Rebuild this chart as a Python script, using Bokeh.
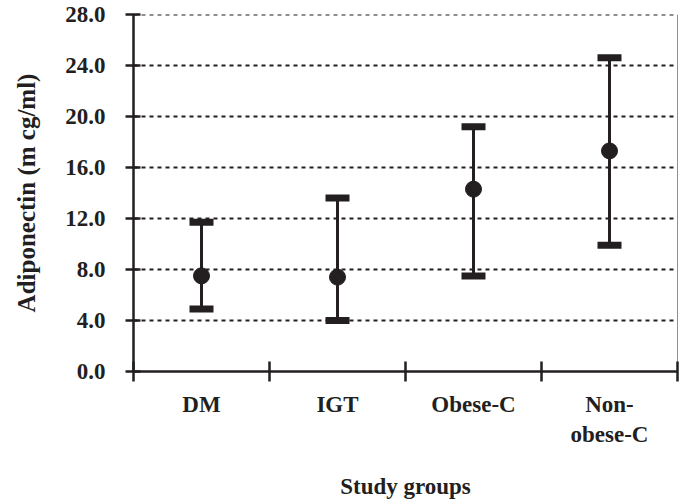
from bokeh.plotting import figure
from bokeh.models import (Range1d, FixedTicker, LinearAxis, Whisker, TeeHead, Grid,
                          ColumnDataSource, PrintfTickFormatter, Span)
from bokeh.embed import file_html
from bokeh.resources import INLINE

# ---- data ----
groups = ["DM", "IGT", "Obese-C", "Non-\nobese-C"]
means = [7.5, 7.4, 14.3, 17.3]
upper = [11.7, 13.6, 19.2, 24.6]
lower = [4.9, 4.0, 7.5, 9.9]
y_ticks = [0, 4, 8, 12, 16, 20, 24, 28]

INK = "#231f20"
FONT = "Liberation Serif"

xc = [i + 0.5 for i in range(len(groups))]
src = ColumnDataSource(dict(x=xc, m=means, up=upper, lo=lower))

p = figure(width=686, height=501, output_backend="svg", toolbar_location=None,
           x_range=Range1d(0, len(groups)), y_range=Range1d(y_ticks[0], y_ticks[-1]),
           min_border_left=133, min_border_right=9, min_border_top=14,
           min_border_bottom=130, x_axis_type=None, y_axis_type=None)
p.outline_line_color = None
p.background_fill_color = "white"
p.border_fill_color = "white"

# y axis
yax = LinearAxis(ticker=FixedTicker(ticks=y_ticks, minor_ticks=[]),
                 formatter=PrintfTickFormatter(format="%.1f"),
                 axis_label="Adiponectin (m cg/ml)")
yax.axis_line_width = 2.5
yax.axis_line_color = INK
yax.major_tick_line_width = 2.5
yax.major_tick_line_color = INK
yax.major_tick_in = 7
yax.major_tick_out = 8
yax.major_label_standoff = 20
yax.major_label_text_font = FONT
yax.major_label_text_font_style = "bold"
yax.major_label_text_font_size = "23px"
yax.major_label_text_color = INK
yax.axis_label_text_font = FONT
yax.axis_label_text_font_style = "bold"
yax.axis_label_text_font_size = "25px"
yax.axis_label_text_color = INK
yax.axis_label_standoff = 22
p.add_layout(yax, "left")

# x axis: minor ticks at group boundaries, labels at group centres
xax = LinearAxis(ticker=FixedTicker(ticks=xc, minor_ticks=list(range(len(groups) + 1))),
                 major_label_overrides={c: g for c, g in zip(xc, groups)},
                 axis_label="Study groups")
xax.axis_line_width = 2.5
xax.axis_line_color = INK
xax.major_tick_in = 0
xax.major_tick_out = 0
xax.major_tick_line_color = None
xax.minor_tick_in = 10
xax.minor_tick_out = 10
xax.minor_tick_line_width = 2.5
xax.minor_tick_line_color = INK
xax.major_label_standoff = 10
xax.major_label_text_font = FONT
xax.major_label_text_font_style = "bold"
xax.major_label_text_font_size = "23px"
xax.major_label_text_color = INK
xax.axis_label_text_font = FONT
xax.axis_label_text_font_style = "bold"
xax.axis_label_text_font_size = "23px"
xax.axis_label_text_color = INK
xax.axis_label_standoff = 24
p.add_layout(xax, "below")

# horizontal dashed grid
p.add_layout(Grid(dimension=1, ticker=FixedTicker(ticks=y_ticks[1:]),
                  grid_line_color=INK, grid_line_width=2,
                  grid_line_dash="4 4"))
# dashed line along the top edge (grid skips the range boundary)
p.add_layout(Span(location=y_ticks[-1], dimension="width",
                  line_color=INK, line_width=2, line_dash="4 4"))

# right border
p.add_layout(Span(location=len(groups), dimension="height",
                  line_color=INK, line_width=1))

# error bars
wh = Whisker(source=src, base="x", upper="up", lower="lo",
             line_color=INK, line_width=3,
             upper_head=TeeHead(size=24, line_width=7, line_color=INK),
             lower_head=TeeHead(size=24, line_width=7, line_color=INK))
p.add_layout(wh)

p.scatter("x", "m", source=src, size=16, color=INK)

open("out.html", "w").write(file_html(p, INLINE))
